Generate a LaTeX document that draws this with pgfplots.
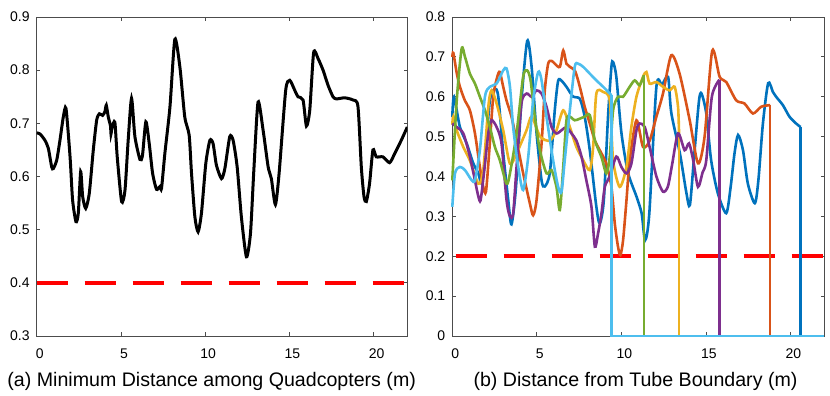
\documentclass[border=0pt]{standalone}
\usepackage{pgfplots}
\pgfplotsset{compat=1.18}
\usepackage{fontspec}
\setmainfont{Liberation Sans}

\definecolor{mblue}{rgb}{0,0.447,0.741}
\definecolor{morange}{rgb}{0.85,0.325,0.098}
\definecolor{myellow}{rgb}{0.929,0.694,0.125}
\definecolor{mpurple}{rgb}{0.494,0.184,0.556}
\definecolor{mgreen}{rgb}{0.466,0.674,0.188}
\definecolor{mcyan}{rgb}{0.301,0.745,0.933}

\pgfplotsset{
  panel/.style={
    scale only axis, anchor=south west,
    height=159.5pt,
    xmin=0, xmax=22, xtick={0,5,10,15,20},
    tick align=inside, major tick length=1.8pt,
    axis line style={black!70, line width=0.4pt},
    tick style={black!70, line width=0.4pt},
    ticklabel style={font=\fontsize{7}{8}\selectfont},
    xticklabel style={yshift=-3pt, xshift=1.5pt},
    /pgf/number format/assume math mode=true,
    yticklabel style={/pgf/number format/fixed, /pgf/number format/precision=1},
  },
  limit/.style={red, line width=2pt, dash pattern=on 15.5pt off 8.5pt},
  run/.style={line width=1.3pt, smooth, tension=0.45},
  drop/.style={line width=1.3pt},
}

\begin{document}
\begin{tikzpicture}
\path[use as bounding box] (0,0) rectangle (415pt,198pt);

% (a) minimum distance among quadcopters
\begin{axis}[panel, at={(18.35pt,30pt)}, width=185.3pt,
    ymin=0.3, ymax=0.9, ytick={0.3,0.4,...,0.9}]
\addplot[limit] coordinates {(0,0.4) (22,0.4)};
\addplot[black, line width=1.5pt, smooth, tension=0.4] coordinates {
(0,0.682) (0.2,0.68) (0.49,0.668) (0.69,0.653) (0.89,0.618) (0.99,0.615)
(1.19,0.631) (1.38,0.668) (1.58,0.712) (1.74,0.728) (1.98,0.637) (2.13,0.556)
(2.33,0.515) (2.47,0.531) (2.61,0.609) (2.73,0.562) (2.91,0.540) (3.12,0.568)
(3.36,0.650) (3.56,0.706) (3.72,0.718) (3.91,0.715) (4.05,0.722) (4.13,0.734)
(4.25,0.712) (4.38,0.695) (4.41,0.680) (4.47,0.692) (4.64,0.702) (4.78,0.637)
(5.04,0.553) (5.24,0.574) (5.43,0.668) (5.63,0.747) (5.83,0.675) (6.13,0.632)
(6.28,0.640) (6.48,0.703) (6.68,0.662) (6.88,0.606) (7.11,0.576) (7.31,0.581)
(7.41,0.578) (7.61,0.644) (7.91,0.731) (8.20,0.858) (8.50,0.806) (8.79,0.712)
(9.05,0.678) (9.19,0.606) (9.39,0.524) (9.58,0.496) (9.78,0.531) (10.04,0.625)
(10.28,0.668) (10.47,0.662) (10.67,0.621) (10.97,0.596) (11.17,0.615) (11.46,0.675)
(11.66,0.668) (11.90,0.618) (12.15,0.524) (12.45,0.449) (12.69,0.493) (12.89,0.612)
(13.14,0.740) (13.44,0.687) (13.74,0.618) (13.93,0.596) (14.17,0.547) (14.39,0.606)
(14.78,0.762) (15.02,0.781) (15.32,0.762) (15.51,0.750) (15.81,0.744) (16.01,0.695)
(16.21,0.725) (16.44,0.833) (16.70,0.822) (17.00,0.800) (17.29,0.772) (17.59,0.750)
(17.79,0.746) (18.28,0.748) (18.77,0.744) (19.07,0.732) (19.27,0.618) (19.43,0.562)
(19.57,0.553) (19.76,0.587) (19.96,0.650) (20.16,0.637) (20.55,0.637) (20.95,0.626)
(21.25,0.643) (21.64,0.668) (22,0.693)
};
\end{axis}

% (b) distance from tube boundary
\begin{axis}[panel, at={(226.15pt,30pt)}, width=186pt, clip=false,
    ymin=0, ymax=0.8, ytick={0,0.1,...,0.8}]
\addplot[limit, dash phase=22.3pt] coordinates {(0,0.2) (22,0.2)};
% blue
\addplot[run, mblue] coordinates {
(0,0.549) (0.1,0.6) (0.45,0.524) (0.85,0.483) (1.24,0.433) (1.54,0.408) (1.73,0.382)
(1.93,0.44) (2.22,0.59) (2.52,0.62) (2.72,0.60) (3.01,0.46) (3.31,0.34) (3.50,0.28)
(3.76,0.37) (4.09,0.59) (4.43,0.74) (4.69,0.675) (4.98,0.51) (5.28,0.39) (5.47,0.375)
(5.77,0.41) (6.06,0.566) (6.26,0.64) (6.46,0.64) (6.75,0.625) (7.15,0.60) (7.54,0.595)
(7.83,0.55) (8.13,0.466) (8.52,0.324) (8.72,0.282) (8.96,0.34) (9.21,0.55) (9.41,0.675)
(9.51,0.687) (9.70,0.65) (10.00,0.51) (10.39,0.41) (10.89,0.35) (11.2,0.307) (11.4,0.24)
(11.65,0.307) (12.07,0.625) (12.4,0.63) (12.76,0.65) (12.95,0.56) (13.46,0.458)
(13.84,0.36) (14.05,0.328) (14.30,0.45) (14.59,0.59) (14.74,0.608) (15.02,0.558)
(15.31,0.44) (15.71,0.357) (16.2,0.308) (16.45,0.37) (16.69,0.458) (16.9,0.504)
(17.19,0.466) (17.48,0.382) (17.89,0.333) (18.1,0.39) (18.37,0.533) (18.68,0.634)
(18.96,0.612) (19.15,0.60) (19.55,0.579) (19.94,0.55) (20.33,0.533) (20.6,0.524)
};
\addplot[drop, mblue] coordinates {(20.6,0.524) (20.6,0) (22,0)};
% orange
\addplot[run, morange] coordinates {
(0,0.70) (0.06,0.71) (0.26,0.66) (0.45,0.625) (0.75,0.59) (1.04,0.566) (1.34,0.508)
(1.63,0.424) (1.83,0.374) (1.99,0.362) (2.19,0.466) (2.42,0.60) (2.66,0.65) (2.81,0.662)
(3.01,0.625) (3.21,0.59) (3.50,0.55) (3.80,0.49) (4.19,0.408) (4.59,0.332) (4.78,0.303)
(4.98,0.34) (5.28,0.483) (5.47,0.616) (5.67,0.683) (5.87,0.69) (6.06,0.683) (6.36,0.675)
(6.56,0.716) (6.75,0.683) (6.95,0.675) (7.24,0.666) (7.44,0.641) (7.64,0.608) (7.83,0.575)
(8.13,0.533) (8.43,0.49) (8.72,0.466) (9.11,0.432) (9.41,0.374) (9.61,0.282) (9.80,0.224)
(9.94,0.203) (10.10,0.24) (10.30,0.34) (10.49,0.44) (10.89,0.541) (11.28,0.474)
(11.67,0.49) (12.07,0.55) (12.46,0.608) (12.95,0.704) (13.44,0.658) (14.04,0.541)
(14.53,0.433) (14.92,0.5) (15.37,0.715) (15.81,0.65) (16.2,0.637) (16.79,0.591)
(17.28,0.583) (17.78,0.558) (18.27,0.575) (18.8,0.579)
};
\addplot[drop, morange] coordinates {(18.8,0.579) (18.8,0) (22,0)};
% yellow
\addplot[run, myellow] coordinates {
(0,0.53) (0.06,0.55) (0.26,0.516) (0.65,0.474) (1.04,0.44) (1.54,0.382) (1.83,0.416)
(2.13,0.575) (2.32,0.616) (2.62,0.583) (3.01,0.516) (3.41,0.432) (3.80,0.458) (4.39,0.516)
(4.69,0.55) (5.2,0.5) (5.77,0.49) (6.16,0.516) (6.56,0.566) (6.95,0.524) (7.34,0.474)
(7.74,0.441) (8.13,0.416) (8.33,0.474) (8.52,0.608) (8.92,0.612) (9.31,0.591) (9.51,0.441)
(9.90,0.374) (10.30,0.424) (10.59,0.524) (10.89,0.60) (11.28,0.65) (11.48,0.662)
(11.67,0.633) (12.07,0.637) (12.46,0.625) (12.85,0.616) (13.15,0.625) (13.35,0.575)
(13.41,0.508)
};
\addplot[drop, myellow] coordinates {(13.41,0.508) (13.41,0) (22,0)};
% purple
\addplot[run, mpurple] coordinates {
(0,0.533) (0.26,0.524) (0.65,0.508) (1.04,0.45) (1.34,0.39) (1.54,0.35) (1.67,0.34)
(1.87,0.408) (2.13,0.508) (2.32,0.541) (2.62,0.524) (2.91,0.483) (3.21,0.34) (3.41,0.30)
(3.60,0.307) (3.80,0.424) (4.09,0.583) (4.39,0.608) (4.69,0.60) (4.98,0.616) (5.28,0.608)
(5.57,0.575) (5.87,0.524) (6.16,0.508) (6.46,0.516) (6.75,0.524) (7.05,0.508) (7.34,0.49)
(7.64,0.45) (7.93,0.39) (8.23,0.324) (8.43,0.224) (8.62,0.257) (8.82,0.307) (9.02,0.374)
(9.31,0.40) (9.70,0.45) (10.00,0.424) (10.30,0.408) (10.59,0.432) (10.89,0.516)
(11.08,0.533) (11.38,0.524) (11.67,0.474) (12.07,0.40) (12.46,0.362) (12.75,0.375)
(13.0,0.43) (13.35,0.508) (13.74,0.466) (14.0,0.483) (14.25,0.44) (14.53,0.374)
(14.8,0.41) (15.02,0.441) (15.35,0.6) (15.8,0.643)
};
\addplot[drop, mpurple] coordinates {(15.8,0.643) (15.8,0) (22,0)};
% green
\addplot[run, mgreen] coordinates {
(0,0.39) (0.26,0.59) (0.55,0.72) (0.75,0.70) (1.04,0.658) (1.34,0.633) (1.63,0.60)
(1.93,0.566) (2.22,0.524) (2.52,0.474) (2.81,0.441) (3.21,0.382) (3.41,0.408) (3.80,0.508)
(4.19,0.65) (4.43,0.666) (4.63,0.641) (4.88,0.55) (5.18,0.466) (5.57,0.408) (5.87,0.416)
(6.16,0.374) (6.36,0.316) (6.56,0.424) (6.75,0.541) (6.95,0.55) (7.24,0.541) (7.54,0.545)
(7.83,0.55) (8.13,0.554) (8.43,0.491) (8.82,0.449) (9.11,0.408) (9.31,0.449) (9.51,0.566)
(9.80,0.60) (10.10,0.60) (10.49,0.625) (10.79,0.641) (11.08,0.629) (11.33,0.654)
};
\addplot[drop, mgreen] coordinates {(11.33,0.654) (11.33,0) (22,0)};
% cyan
\addplot[run, mcyan] coordinates {
(0,0.324) (0.16,0.408) (0.45,0.424) (0.75,0.416) (1.14,0.391) (1.34,0.391) (1.63,0.466)
(1.93,0.60) (2.22,0.625) (2.62,0.633) (3.01,0.666) (3.21,0.671) (3.41,0.625) (3.60,0.524)
(3.90,0.424) (4.19,0.366) (4.49,0.449) (4.78,0.591) (5.08,0.662) (5.28,0.641) (5.57,0.55)
(5.96,0.441) (6.26,0.374) (6.46,0.362) (6.65,0.441) (6.95,0.566) (7.24,0.675) (7.44,0.683)
(7.74,0.675) (8.13,0.658) (8.52,0.641) (8.92,0.625) (9.41,0.604)
};
\addplot[drop, mcyan] coordinates {(9.41,0.604) (9.41,0) (22,0)};
\end{axis}

\node[anchor=base, font=\fontsize{9.8}{11}\selectfont] at (105.85pt,4.65pt)
  {(a) Minimum Distance among Quadcopters (m)};
\node[anchor=base, font=\fontsize{9.8}{11}\selectfont] at (317.75pt,4.65pt)
  {(b) Distance from Tube Boundary (m)};
\end{tikzpicture}
\end{document}
